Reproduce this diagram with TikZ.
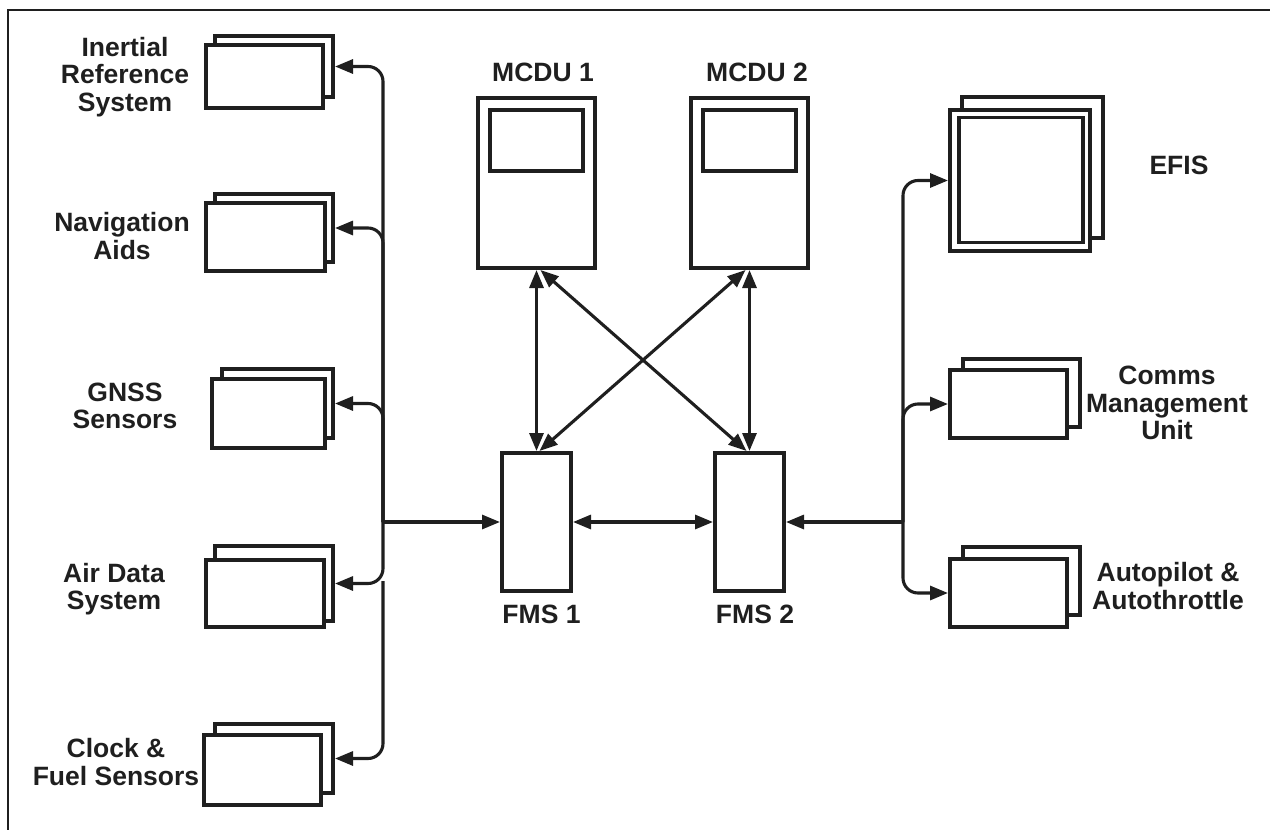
\documentclass[tikz,border=0pt]{standalone}
\usepackage{fontspec}
\setmainfont{Liberation Sans}
\usetikzlibrary{arrows.meta}
\tikzset{
  bx/.style 2 args={draw=black!88, line width=4pt, fill=white, inner sep=0pt,
    minimum width=#1pt, minimum height=#2pt},
  lbl/.style={font=\fontsize{26.5}{27.5}\selectfont\bfseries, align=center, inner sep=0pt, text=black!88},
  conn/.style={draw=black!88, line width=3.1pt},
  tip/.tip={Triangle[length=18pt,width=14pt]},
}
\begin{document}
\begin{tikzpicture}[x=1pt,y=-1pt]
\useasboundingbox (0,0) rectangle (1270,830);
\draw[line width=2pt, black!88] (1270,9.5) -- (7.5,9.5) -- (7.5,830);

% left stacked boxes
\node[bx={118}{61}] (irsb) at (274,66.5) {};
\node[bx={117}{63}] (irsf) at (264.5,76.5) {};
\node[bx={118}{68}] (navb) at (274,228) {};
\node[bx={119}{68}] (navf) at (265.5,237) {};
\node[bx={111}{69}] (gnssb) at (277.5,403.5) {};
\node[bx={113}{69}] (gnssf) at (268.5,413.5) {};
\node[bx={118}{75}] (airb) at (274,583.5) {};
\node[bx={118}{67}] (airf) at (265,593.5) {};
\node[bx={118}{69}] (clockb) at (274,758.5) {};
\node[bx={117}{70}] (clockf) at (262.5,770) {};

% right stacked boxes
\node[bx={141}{141}] (efisb) at (1032.5,167.5) {};
\node[bx={140}{141}] (efisf) at (1020,180.5) {};
\node[bx={124}{125}, line width=3.5pt] (efisi) at (1021,180) {};
\node[bx={117}{68}] (commsb) at (1021.5,393) {};
\node[bx={117}{68}] (commsf) at (1008.5,404) {};
\node[bx={117}{68}] (autob) at (1021.5,581) {};
\node[bx={117}{68}] (autof) at (1008.5,593) {};

% MCDUs and FMSs
\node[bx={117}{170}] (mcdu1) at (536.5,183) {};
\node[bx={93}{61}] (scr1) at (536.5,140.5) {};
\node[bx={117}{170}] (mcdu2) at (749.5,183) {};
\node[bx={93}{61}] (scr2) at (749.5,140.5) {};
\node[bx={69}{138}] (fms1) at (536.5,522) {};
\node[bx={69}{138}] (fms2) at (749.5,522) {};

% labels
\node[lbl] (tirs) at (125,77) {Inertial\\Reference\\System};
\node[lbl] (tnav) at (122,236) {Navigation\\Aids};
\node[lbl] (tgnss) at (125,406) {GNSS\\Sensors};
\node[lbl] (tair) at (114,589) {Air Data\\System};
\node[lbl] (tclock) at (116,762) {Clock \&\\Fuel Sensors};
\node[lbl] (tefis) at (1179,165) {EFIS};
\node[lbl] (tcomms) at (1167,403) {Comms\\Management\\Unit};
\node[lbl] (tauto) at (1168,586) {Autopilot \&\\Autothrottle};
\node[lbl] (tm1) at (543,72) {MCDU 1};
\node[lbl] (tm2) at (757,72) {MCDU 2};
\node[lbl] (tf1) at (541.5,614) {FMS 1};
\node[lbl] (tf2) at (755,614) {FMS 2};

% buses
\coordinate (lbus) at (383,522);
\coordinate (lgap) at (383,581);
\coordinate (rbus) at (903,522);

\draw[conn, rounded corners=15pt, -tip] (lbus) |- (irsb.east);
\draw[conn, rounded corners=15pt, -tip] (lbus) |- (navb.east);
\draw[conn, rounded corners=15pt, -tip] (lbus) |- (gnssb.east);
\draw[conn, rounded corners=15pt, -tip] (lbus) |- (airb.east);
\draw[conn, rounded corners=15pt, -tip] (lgap) |- (clockb.east);
\draw[conn, -tip] (lbus) -- (fms1.west);

\draw[conn, rounded corners=15pt, -tip] (rbus) |- (efisf.west);
\draw[conn, rounded corners=15pt, -tip] (rbus) |- (commsf.west);
\draw[conn, rounded corners=15pt, -tip] (rbus) |- (autof.west);
\draw[conn, -tip] (rbus) -- (fms2.east);

\draw[conn, tip-tip] (fms1.east) -- (fms2.west);
\draw[conn, tip-tip] (mcdu1.south) -- (fms1.north);
\draw[conn, tip-tip] (mcdu2.south) -- (fms2.north);
\draw[conn, tip-tip] ([xshift=4pt]mcdu1.south) -- ([xshift=-3pt]fms2.north);
\draw[conn, tip-tip] ([xshift=-4pt]mcdu2.south) -- ([xshift=3pt]fms1.north);
\end{tikzpicture}
\end{document}
